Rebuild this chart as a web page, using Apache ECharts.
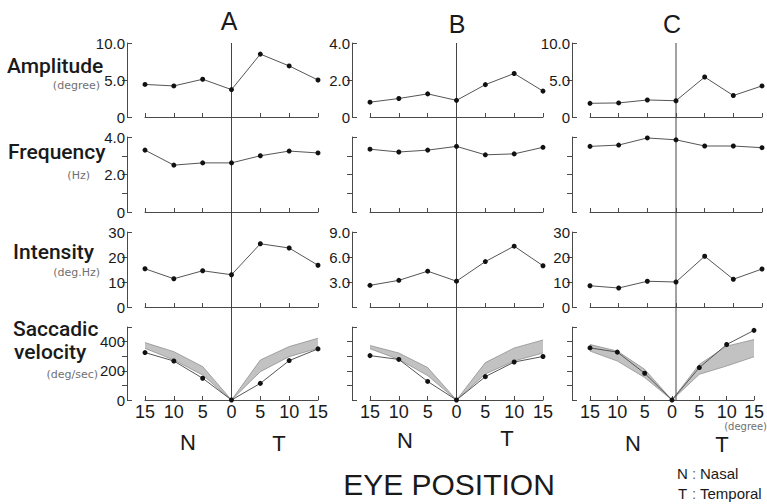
<!DOCTYPE html>
<html><head><meta charset="utf-8">
<script src="https://cdn.jsdelivr.net/npm/echarts@6/dist/echarts.min.js"></script>
<style>html,body{margin:0;padding:0;background:#fff}#c{width:767px;height:504px}</style>
</head><body><div id="c"></div>
<script>
// ---------- data ----------
const positions = [-15, -10, -5, 0, 5, 10, 15];   // eye position (N negative, T positive)
const centerPosition = 0;
const panels = ['A', 'B', 'C'];

const amplitudeA = [4.4, 4.2, 5.1, 3.7, 8.5, 6.9, 5.0];
const amplitudeB = [0.8, 1.0, 1.25, 0.9, 1.75, 2.35, 1.4];
const amplitudeC = [1.85, 1.9, 2.3, 2.2, 5.4, 2.9, 4.2];

const frequencyA = [3.3, 2.5, 2.62, 2.62, 3.0, 3.25, 3.15];
const frequencyB = [3.35, 3.2, 3.3, 3.5, 3.05, 3.1, 3.45];
const frequencyC = [3.5, 3.57, 3.95, 3.85, 3.52, 3.52, 3.43];

const intensityA = [15.3, 11.3, 14.5, 12.9, 25.3, 23.6, 16.7];
const intensityB = [2.6, 3.2, 4.3, 3.1, 5.45, 7.3, 4.95];
const intensityC = [8.5, 7.6, 10.3, 10.0, 20.3, 11.1, 15.2];

const saccadicA = [325, 267, 149, 0, 114, 270, 350];
const saccadicB = [304, 278, 127, 0, 160, 260, 298];
const saccadicC = [357, 328, 183, 0, 222, 380, 477];

const normalLowA = [354, 274, 171, 0, 194, 297, 354];
const normalHighA = [393, 331, 229, 0, 274, 366, 423];
const normalLowB = [351, 278, 167, 0, 178, 267, 322];
const normalHighB = [373, 322, 222, 0, 256, 356, 411];
const normalLowC = [335, 267, 154, 0, 176, 233, 296];
const normalHighC = [380, 335, 210, 0, 244, 369, 414];

// y scales: [max, step] per row, per panel
const amplitudeScale = [[10, 5], [4, 2], [10, 5]];
const frequencyScale = [[4, 1], [4, 1], [4, 1]];
const intensityScale = [[30, 10], [9, 3], [30, 10]];
const saccadicScale = [[500, 100], [500, 100], [500, 100]];

// y tick labels shown
const amplitudeLabels = [[0, 5, 10], [0, 2, 4], [0, 5, 10]];
const frequencyLabels = [[0, 2, 4], [], []];
const intensityLabels = [[0, 10, 20, 30], [3, 6, 9], [0, 10, 20, 30]];
const saccadicLabels = [[0, 200, 400], [], []];

const rowData = [
  [amplitudeA, amplitudeB, amplitudeC],
  [frequencyA, frequencyB, frequencyC],
  [intensityA, intensityB, intensityC],
  [saccadicA, saccadicB, saccadicC]
];
const rowScales = [amplitudeScale, frequencyScale, intensityScale, saccadicScale];
const rowLabels = [amplitudeLabels, frequencyLabels, intensityLabels, saccadicLabels];
const bandLow = [normalLowA, normalLowB, normalLowC];
const bandHigh = [normalHighA, normalHighB, normalHighC];

// ---------- layout ----------
const gridLeft = [145, 370, 590];
const gridWidth = [173, 173, 172];
const rowTop = [43, 137, 232, 327];
const rowHeight = [74, 75, 75, 73];
const FONT = "'Liberation Sans', Arial, Helvetica, sans-serif";
const LABELFONT = "Roboto, 'Liberation Sans', Arial, sans-serif";
const AX = '#4a4a4a';
const TXT = '#1a1a1a';

const grid = [], xAxis = [], yAxis = [], series = [];
const categories = positions.map(String);

function decimalsFor(r, p) {
  if (r <= 1) return 1;
  if (r === 2 && p === 1) return 1;
  return 0;
}

for (let r = 0; r < 4; r++) {
  for (let p = 0; p < 3; p++) {
    const gi = grid.length;
    grid.push({ left: gridLeft[p], width: gridWidth[p], top: rowTop[r], height: rowHeight[r], containLabel: false });
    const isBottom = r === 3;
    xAxis.push({
      type: 'category', gridIndex: gi, data: categories, boundaryGap: false,
      axisLine: { show: true, onZero: false, lineStyle: { color: AX, width: 1 } },
      axisTick: { show: true, inside: true, length: 4, interval: 0, lineStyle: { color: AX } },
      splitLine: { show: false },
      axisLabel: {
        show: isBottom, interval: 0, margin: 3, fontSize: 18, fontFamily: FONT, color: TXT,
        formatter: v => String(Math.abs(Number(v)))
      }
    });
    const [ymax, ystep] = rowScales[r][p];
    const labs = rowLabels[r][p];
    const dec = decimalsFor(r, p);
    const innerTicks = [];
    for (let v = ystep; v < ymax; v += ystep) innerTicks.push(v);
    // main y axis
    yAxis.push({
      type: 'value', gridIndex: gi, min: 0, max: ymax, interval: ystep, position: 'left', offset: 18,
      axisLine: { show: true, onZero: false, lineStyle: { color: AX, width: 1 } },
      axisTick: { show: true, inside: false, length: 5, customValues: innerTicks, lineStyle: { color: AX } },
      splitLine: { show: false },
      axisLabel: {
        show: true, margin: 2, fontSize: 15, fontFamily: FONT, color: TXT,
        formatter: v => labs.indexOf(v) >= 0 ? (v === 0 ? '0' : v.toFixed(dec)) : ''
      }
    });
    // bracket end ticks
    yAxis.push({
      type: 'value', gridIndex: gi, min: 0, max: ymax, interval: ymax, position: 'left', offset: 18,
      axisLine: { show: false, onZero: false },
      axisTick: { show: true, inside: true, length: 5, lineStyle: { color: AX } },
      splitLine: { show: false },
      axisLabel: { show: false }
    });
    const yi = yAxis.length - 2;
    if (r === 3) {
      series.push({
        type: 'line', xAxisIndex: gi, yAxisIndex: yi, stack: 'band' + p, silent: true,
        symbol: 'none', data: bandLow[p].slice(),
        lineStyle: { color: '#929292', width: 0.8 }, z: 1
      });
      series.push({
        type: 'line', xAxisIndex: gi, yAxisIndex: yi, stack: 'band' + p, silent: true,
        symbol: 'none', data: bandHigh[p].map((h, i) => h - bandLow[p][i]),
        lineStyle: { color: '#929292', width: 0.8 },
        areaStyle: { color: '#c2c2c2', opacity: 1 }, z: 1
      });
    }
    series.push({
      type: 'line', xAxisIndex: gi, yAxisIndex: yi, silent: true,
      data: rowData[r][p].slice(),
      symbol: 'circle', symbolSize: 5,
      itemStyle: { color: '#111' },
      lineStyle: { color: '#555', width: 1 }, z: 3
    });
  }
}

// center (0 deg) vertical line per column
for (let p = 0; p < 3; p++) {
  const gi = grid.length;
  grid.push({ left: gridLeft[p], width: gridWidth[p], top: rowTop[0], height: rowTop[3] + rowHeight[3] - rowTop[0] });
  xAxis.push({ type: 'value', gridIndex: gi, min: -15, max: 15, show: false });
  yAxis.push({ type: 'value', gridIndex: gi, min: 0, max: 1, show: false });
  series.push({
    type: 'line', xAxisIndex: gi, yAxisIndex: yAxis.length - 1, silent: true, symbol: 'none',
    data: [[centerPosition, 0], [centerPosition, 1]],
    lineStyle: { color: '#444', width: 1 }, z: 2
  });
}

function txt(text, x, y, size, opts, family, weight) {
  return {
    type: 'text', silent: true,
    style: Object.assign({
      text: text, x: x, y: y, font: `${weight || 'normal'} ${size}px ${family || FONT}`, fill: TXT,
      textAlign: 'left', textVerticalAlign: 'middle'
    }, opts || {})
  };
}
const UNITFONT = "'DejaVu Sans', sans-serif";
function unit(text, x, y, size) {
  return txt(text, x, y, size || 11, { fill: '#707070', textAlign: 'right' }, UNITFONT);
}
const graphic = [
  txt('A', 229, 21, 25, { textAlign: 'center' }),
  txt('B', 457, 24, 25, { textAlign: 'center' }),
  txt('C', 672, 24, 25, { textAlign: 'center' }),
  txt('Amplitude', 7, 66, 21, null, LABELFONT, 500),
  unit('(degree)', 100, 85),
  txt('Frequency', 8, 152, 21, null, LABELFONT, 500),
  unit('(Hz)', 90, 175),
  txt('Intensity', 13, 252, 21, null, LABELFONT, 500),
  unit('(deg.Hz)', 100, 272),
  txt('Saccadic', 13, 329, 21, null, LABELFONT, 500),
  txt('velocity', 14, 352, 21, null, LABELFONT, 500),
  unit('(deg/sec)', 98, 374),
  unit('(degree)', 767, 426, 10),
  txt('N', 188, 442, 22, { textAlign: 'center' }),
  txt('T', 279, 443, 22, { textAlign: 'center' }),
  txt('N', 405, 440, 22, { textAlign: 'center' }),
  txt('T', 507, 438, 22, { textAlign: 'center' }),
  txt('N', 633, 443, 22, { textAlign: 'center' }),
  txt('T', 722, 444, 22, { textAlign: 'center' }),
  txt('EYE POSITION', 449, 484, 30, { textAlign: 'center' }),
  txt('N', 677, 473, 15),
  txt(':', 692, 473, 15, { fill: '#666' }),
  txt('Nasal', 700, 473, 15),
  txt('T', 678, 493, 15),
  txt(':', 692, 493, 15, { fill: '#666' }),
  txt('Temporal', 700, 493, 15)
];

const chart = echarts.init(document.getElementById('c'), null, { renderer: 'svg', width: 767, height: 504 });
chart.setOption({
  animation: false,
  backgroundColor: '#ffffff',
  grid: grid, xAxis: xAxis, yAxis: yAxis, series: series, graphic: graphic
});
</script>
</body></html>
